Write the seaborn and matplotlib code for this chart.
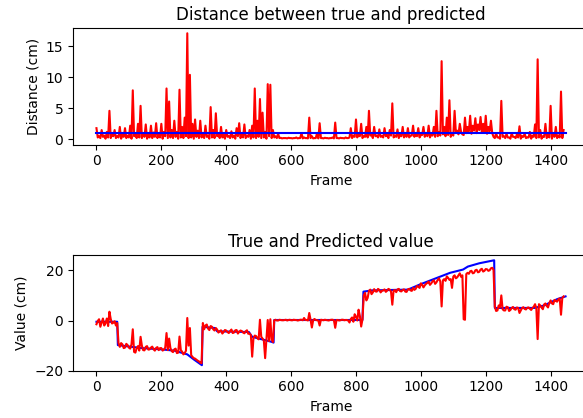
import numpy as np
import pandas as pd
import matplotlib
matplotlib.use("Agg")
import matplotlib.pyplot as plt
import seaborn as sns

# ---- data ----
frames = list(range(0, 1441, 8))      # 181 sampled frames (upper readings)
frames_lo = list(range(4, 1437, 8))   # 180 in-between frames (lower readings)

distance = [
    1.8, 0.5, 1.5, 0.6, 1.2, 4.6, 0.8, 1.5, 0.5, 2.0,
    0.7, 1.8, 0.6, 2.2, 7.9, 0.8, 2.5, 5.4, 1.0, 2.4,
    0.7, 2.2, 1.1, 2.6, 0.9, 2.5, 1.2, 8.2, 6.1, 1.5,
    3.0, 1.2, 8.0, 2.0, 3.5, 17.1, 10.4, 2.5, 3.2, 1.4,
    3.0, 1.0, 2.2, 0.6, 5.2, 1.5, 4.2, 0.8, 2.0, 0.7,
    1.5, 0.5, 1.3, 0.6, 1.8, 2.6, 0.7, 2.4, 0.6, 1.5,
    2.2, 8.2, 3.0, 6.5, 4.3, 1.2, 8.9, 8.8, 1.5, 0.5,
    0.9, 0.25, 0.2, 0.2, 0.25, 0.2, 0.2, 0.3, 0.2, 1.0,
    0.3, 0.2, 3.5, 0.5, 0.2, 1.0, 2.6, 0.2, 0.25, 0.2,
    0.2, 0.3, 2.7, 0.2, 0.25, 0.2, 0.3, 0.2, 1.8, 0.6,
    3.2, 1.0, 2.5, 0.5, 2.0, 4.6, 0.8, 2.0, 0.6, 1.6,
    0.5, 1.8, 0.7, 1.5, 5.8, 0.6, 1.6, 0.7, 2.0, 0.8,
    1.8, 0.6, 2.2, 0.9, 1.8, 0.7, 2.0, 1.0, 2.2, 0.8,
    2.0, 4.6, 1.2, 12.6, 2.0, 3.5, 6.3, 1.0, 4.6, 1.4,
    2.5, 0.8, 3.5, 2.0, 3.8, 2.2, 3.4, 2.4, 3.6, 2.5,
    3.8, 2.0, 3.0, 0.4, 1.0, 0.3, 6.2, 0.5, 0.9, 0.3,
    1.0, 0.4, 0.8, 2.1, 0.5, 0.9, 0.3, 1.2, 0.6, 2.4,
    12.9, 1.5, 0.5, 2.5, 0.8, 5.4, 1.0, 2.0, 0.6, 7.7,
    1.5,
]
distance_lo = [
    0.3, 0.2, 0.4, 0.1, 0.3, 0.2, 0.5, 0.2, 0.3, 0.1,
    0.4, 0.2, 0.3, 0.1, 0.5, 0.2, 0.3, 0.2, 0.4, 0.1,
    0.3, 0.2, 0.4, 0.2, 0.3, 0.1, 0.5, 0.2, 0.3, 0.2,
    0.4, 0.1, 0.3, 0.2, 0.5, 0.2, 0.3, 0.1, 0.4, 0.2,
    0.3, 0.2, 0.4, 0.1, 0.3, 0.2, 0.5, 0.2, 0.3, 0.1,
    0.4, 0.2, 0.3, 0.1, 0.5, 0.2, 0.3, 0.2, 0.4, 0.1,
    0.3, 0.2, 0.4, 0.2, 0.3, 0.1, 0.5, 0.2, 0.3, 0.2,
    0.2, 0.15, 0.2, 0.15, 0.2, 0.15, 0.2, 0.15, 0.2, 0.15,
    0.2, 0.15, 0.2, 0.15, 0.2, 0.15, 0.2, 0.15, 0.2, 0.15,
    0.2, 0.15, 0.2, 0.15, 0.2, 0.15, 0.2, 0.3, 0.2, 0.4,
    0.3, 0.5, 0.2, 0.4, 0.3, 0.6, 0.2, 0.5, 0.3, 0.4,
    0.3, 0.5, 0.2, 0.6, 0.3, 0.4, 0.2, 0.5, 0.3, 0.4,
    0.3, 0.6, 0.4, 0.5, 0.3, 0.7, 0.4, 0.5, 0.3, 0.6,
    0.4, 0.5, 0.6, 0.8, 0.5, 0.7, 0.4, 0.6,
    1.0, 0.8, 1.2, 0.7, 1.0, 1.3, 0.9, 1.4, 1.0, 1.5,
    1.1, 1.2, 0.9, 1.3, 1.0,
    0.2, 0.3, 0.1, 0.4, 0.2, 0.3, 0.1, 0.4, 0.2, 0.3,
    0.1, 0.4, 0.2, 0.3, 0.1, 0.4, 0.2, 0.3, 0.1, 0.4,
    0.2, 0.3, 0.1, 0.4, 0.2, 0.3, 0.2,
]
mean_distance = 1.05
mean_frames = [0, 1446]

true_frames = [0, 64, 66, 140, 200, 240, 280, 300, 325, 327, 365, 372,
               470, 480, 540, 546, 548, 820, 823, 850, 960, 1000, 1050,
               1090, 1130, 1145, 1180, 1226, 1228, 1350, 1380, 1420, 1446]
true_values = [-0.5, -0.5, -9.8, -11.0, -11.5, -12.0, -13.5, -15.5, -17.8,
               -2.5, -3.0, -4.3, -4.6, -6.5, -8.5, -8.8, 0.2, 0.2, 11.5,
               12.0, 12.3, 14.5, 17.0, 19.0, 20.3, 21.5, 22.8, 24.0, 5.0,
               5.0, 6.0, 8.5, 9.6]

predicted = [
    -1.5, 0.5, -0.8, -2.0, 0.8, 3.5, -1.2, -0.3, -1.0, -10.5,
    -9.5, -10.8, -9.8, -11.2, -3.5, -12.8, -10.2, -6.5, -11.8, -10.5,
    -11.6, -10.8, -11.5, -10.9, -11.8, -11.0, -11.6, -5.0, -7.2, -12.2,
    -11.5, -13.0, -6.4, -12.4, -13.0, 1.0, -3.0, -14.5, -15.2, -16.0,
    -16.8, -1.0, -2.0, -3.2, -2.2, -3.5, -3.0, -4.8, -3.9, -4.6,
    -4.0, -5.0, -3.6, -4.8, -3.8, -4.5, -4.2, -5.1, -3.9, -5.2,
    -14.4, -6.0, -7.0, 0.3, -7.2, -15.0, 0.2, 0.5, -8.6, 0.3,
    0.0, 0.2, 0.1, 0.3, 0.2, 0.1, 0.3, 0.2, 0.1, 0.3,
    1.0, 0.2, 3.0, -2.8, 0.6, 0.1, -2.0, 0.2, 0.3, 0.1,
    0.2, 0.3, -2.9, 0.2, 0.1, 0.3, 0.2, 0.0, 0.6, -0.5,
    1.5, 4.3, -2.4, 10.0, 8.0, 11.8, 10.5, 12.5, 11.5, 12.2,
    11.8, 12.4, 11.9, 12.3, 6.3, 12.1, 12.4, 11.7, 12.2, 11.5,
    12.4, 12.0, 13.0, 12.6, 13.5, 14.8, 13.2, 14.6, 15.5, 14.8,
    16.0, 15.2, 16.8, 5.6, 16.5, 17.6, 16.2, 13.0, 18.0, 17.2,
    18.8, 18.0, 0.3, 19.0, 19.6, 18.8, 20.0, 19.2, 20.3, 19.5,
    20.5, 19.8, 20.8, 20.2, 3.8, 6.0, 10.0, 4.0, 5.5, 3.8,
    5.0, 4.5, 5.2, 3.0, 5.0, 4.6, 5.1, 4.7, 5.0, 6.5,
    -7.4, 6.0, 4.5, 6.8, 5.2, 8.0, 6.5, 7.8, 8.5, 2.3,
    9.6,
]
predicted_lo = [
    -0.2, -2.5, 0.8, -1.0, -2.2, 0.6, -0.9, -2.0,
    -9.0,
    -9.0, -11.0, -9.3, -10.8, -9.5, -12.5, -11.0, -12.0, -10.0, -11.9,
    -10.2, -11.5, -10.4, -12.0, -10.6, -11.0, -12.0, -10.8, -11.8, -11.0,
    -12.6, -11.2, -12.8, -11.8, -13.5, -12.0, -10.0, -13.8, -15.0, -15.6,
    -16.3,
    -17.0,
    -3.5, -1.6, -3.8, -2.5, -4.0, -3.6, -4.3, -5.2, -3.8, -4.6,
    -4.2, -5.0, -3.9, -5.2, -4.0, -4.8, -4.3, -5.3, -5.8, -7.0,
    -6.2, -7.5, -6.5, -8.0, -7.2, -8.2, -7.5,
    0.0,
    0.0, 0.3, 0.1, 0.2, 0.0, 0.3, 0.1, 0.2, 0.0, 0.3,
    0.1, 0.2, 0.0, 0.3, 0.1, 0.2, 0.0, 0.3, 0.1, 0.2,
    0.0, 0.3, 0.1, 0.2, 0.0, 0.3, 0.1, 0.2, -0.8, 1.2,
    2.5, 0.0, 1.8,
    0.5,
    11.0, 9.0, 12.3, 11.2, 11.6, 12.6, 11.2, 12.0, 11.4, 12.6,
    11.5, 12.0, 11.3, 12.6, 11.6, 12.4, 11.4, 12.6, 11.8, 12.2,
    13.8, 13.0, 14.2, 14.0, 15.0, 14.2, 15.6, 14.6, 16.2, 15.5,
    16.0, 15.8, 17.0, 16.5, 17.5, 16.8, 18.0, 17.4, 0.5, 18.5,
    18.6, 19.8, 19.0, 20.2, 19.4, 20.6, 19.8, 20.4, 20.0, 21.0,
    5.5, 4.0, 5.2, 4.5, 4.0, 5.3, 4.2, 5.4, 4.3, 5.0,
    4.0, 5.3, 4.4, 5.2, 4.2, 5.5, 4.8, 6.5, 5.2, 6.4,
    5.8, 7.0, 6.8, 8.2, 7.5, 8.8, 9.0,
]

assert len(frames) == len(distance) == len(predicted)
assert len(frames_lo) == len(distance_lo) == len(predicted_lo)

dist_df = pd.DataFrame({"Frame": frames + frames_lo,
                        "Distance": distance + distance_lo}).sort_values("Frame")
pred_df = pd.DataFrame({"Frame": frames + frames_lo,
                        "Value": predicted + predicted_lo}).sort_values("Frame")
true_df = pd.DataFrame({"Frame": true_frames, "Value": true_values})
mean_df = pd.DataFrame({"Frame": mean_frames,
                        "Distance": [mean_distance, mean_distance]})

# ---- figure ----
W, H = 583, 418
fig = plt.figure(figsize=(W / 100, H / 100), dpi=100)
ax1 = fig.add_axes([73 / W, (H - 144.6) / H, 516 / W, 116.6 / H])
ax2 = fig.add_axes([73 / W, (H - 370.7) / H, 516 / W, 115.7 / H])

sns.lineplot(data=dist_df, x="Frame", y="Distance", color="red", ax=ax1,
             estimator=None, sort=False, linewidth=1.5)
sns.lineplot(data=mean_df, x="Frame", y="Distance", color="blue", ax=ax1,
             estimator=None, sort=False, linewidth=1.5)
ax1.set_title("Distance between true and predicted", fontsize=12)
ax1.set_xlabel("Frame")
ax1.set_ylabel("Distance (cm)")
ax1.set_yticks([0, 5, 10, 15])
ax1.set_ylim(-0.85, 17.95)

sns.lineplot(data=true_df, x="Frame", y="Value", color="blue", ax=ax2,
             estimator=None, sort=False, linewidth=1.5)
sns.lineplot(data=pred_df, x="Frame", y="Value", color="red", ax=ax2,
             estimator=None, sort=False, linewidth=1.5)
ax2.set_title("True and Predicted value", fontsize=12)
ax2.set_xlabel("Frame")
ax2.set_ylabel("Value (cm)")
ax2.set_yticks([-20, 0, 20])
ax2.set_ylim(-20.0, 26.1)

for ax in (ax1, ax2):
    ax.set_xticks(range(0, 1401, 200))
    ax.set_xlim(-72.3, 1518.3)

fig.savefig("out.png", dpi=100)
